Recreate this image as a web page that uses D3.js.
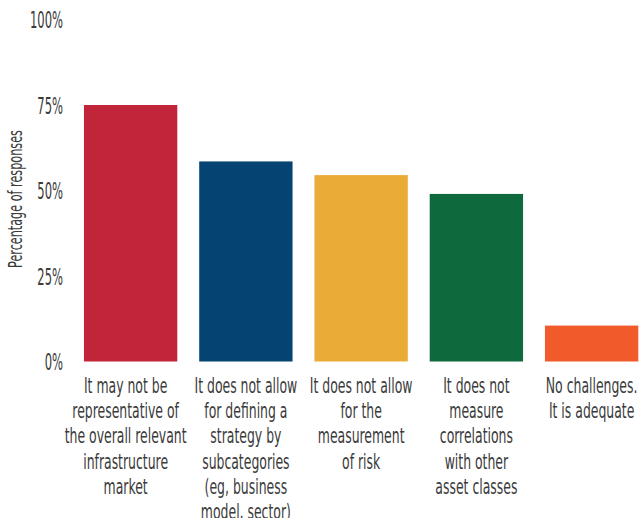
<!DOCTYPE html>
<html>
<head>
<meta charset="utf-8">
<script src="https://cdn.jsdelivr.net/npm/d3@7"></script>
<style>
  html, body { margin: 0; padding: 0; background: #fff; }
  svg text { font-family: "Liberation Sans Narrow", "DejaVu Sans Condensed", "Roboto", sans-serif; fill: #3b3b3b; }
</style>
</head>
<body>
<svg id="chart" width="641" height="518"></svg>
<script>
// Survey responses: challenges with the benchmark
const categories = [
  ["It may not be", "representative of", "the overall relevant", "infrastructure", "market"],
  ["It does not allow", "for defining a", "strategy by", "subcategories", "(eg, business", "model, sector)"],
  ["It does not allow", "for the", "measurement", "of risk"],
  ["It does not", "measure", "correlations", "with other", "asset classes"],
  ["No challenges.", "It is adequate"]
];
const values = [75, 58.5, 54.5, 49, 10.5];
const colors = ["#C0253A", "#054472", "#EBAC37", "#0E6A3D", "#F15B2B"];
const yTicks = [0, 25, 50, 75, 100];
const tickLabels = ["0%", "25%", "50%", "75%", "100%"];
const yTitle = "Percentage of responses";

const svg = d3.select("#chart");

const x = d3.scaleBand()
  .domain(d3.range(values.length))
  .range([73, 649.25])
  .paddingInner(0.19)
  .paddingOuter(0.095);

const y = d3.scaleLinear().domain([0, 100]).range([361.5, 19.5]);

// Bars
svg.append("g").selectAll("rect")
  .data(values)
  .join("rect")
  .attr("x", (d, i) => x(i))
  .attr("width", x.bandwidth())
  .attr("y", d => y(d))
  .attr("height", d => y(0) - y(d))
  .attr("fill", (d, i) => colors[i]);

// Condensed text helper: squeeze horizontally so a reference string fits a width
function squeezeFactor(sample, size, target) {
  const t = svg.append("text").attr("font-size", size).text(sample);
  const w = t.node().getComputedTextLength();
  t.remove();
  return Math.min(1, target / w);
}

// Y axis tick labels
const tickSize = 23;
const tickSx = squeezeFactor("100%", tickSize, 33);
const yAxis = d3.axisLeft(y).tickValues(yTicks).tickFormat((d, i) => tickLabels[i]).tickSize(0).tickPadding(0);
const yg = svg.append("g").attr("transform", "translate(63,0)").call(yAxis);
yg.select(".domain").remove();
yg.selectAll(".tick text")
  .attr("font-size", tickSize)
  .attr("font-family", null)
  .attr("fill", "#3b3b3b")
  .attr("x", null)
  .attr("dy", "0.36em")
  .attr("text-anchor", "end")
  .attr("transform", `scale(${tickSx},1)`);

// Y axis title
const titleSize = 20;
const titleSx = squeezeFactor(yTitle, titleSize, 138);
svg.append("text")
  .attr("transform", `translate(22,199) rotate(-90) scale(${titleSx},1)`)
  .attr("text-anchor", "middle")
  .attr("font-size", titleSize)
  .text(yTitle);

// Category labels
const catSize = 22;
const catSx = squeezeFactor("the overall relevant", catSize, 122);
const lineH = 25.2;
const catG = svg.append("g").selectAll("g")
  .data(categories)
  .join("g")
  .attr("transform", (d, i) => `translate(${x(i) + x.bandwidth() / 2 - (i === 0 ? 5 : 0)},393) scale(${catSx},1)`);
catG.selectAll("text")
  .data(d => d)
  .join("text")
  .attr("text-anchor", "middle")
  .attr("font-size", catSize)
  .attr("y", (d, j) => j * lineH)
  .text(d => d);
</script>
</body>
</html>
